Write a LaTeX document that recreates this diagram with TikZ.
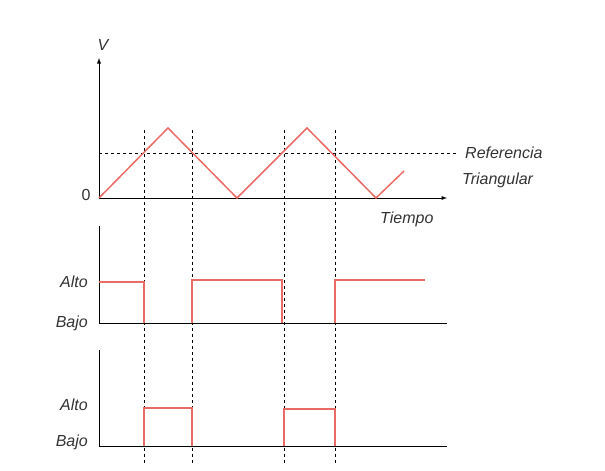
\documentclass[tikz,border=0pt]{standalone}
\usepackage{fontspec}
\setmainfont{Liberation Sans}
\definecolor{sig}{HTML}{EA6B66}
\definecolor{txt}{HTML}{333333}
\begin{document}
\begin{tikzpicture}[x=1pt,y=-1pt,
  ax/.style={line width=0.9pt,black},
  axa/.style={ax,-latex},
  sg/.style={sig,line width=1.5pt},
  dsh/.style={black,dashed,line width=0.6pt},
  lbl/.style={text=txt,font=\itshape\fontsize{16}{18}\selectfont,inner sep=0pt}]
\useasboundingbox (0,0) rectangle (605,471);
\coordinate (o1) at (99,198); \coordinate (vt) at (99,58); \coordinate (ht) at (447,198);
\coordinate (o2) at (99,323); \coordinate (v2) at (99,226); \coordinate (h2) at (447,323);
\coordinate (o3) at (99,446); \coordinate (v3) at (99,350); \coordinate (h3) at (447,446);
\draw[axa] (o1) -- (vt);
\draw[axa] (o1) -- (ht);
\draw[ax] (o2) -- (v2); \draw[ax] (o2) -- (h2);
\draw[ax] (o3) -- (v3); \draw[ax] (o3) -- (h3);
\node[lbl] (V) at (103,45) {V};
\node[lbl,font=\fontsize{16}{18}\selectfont] (z) at (86,195) {0};
\node[lbl,anchor=west] (ref) at (465,153) {Referencia};
\node[lbl,anchor=west] (tri) at (462,180) {Triangular};
\node[lbl,anchor=west] (tiem) at (380,219) {Tiempo};
\node[lbl,anchor=east] (a1) at (88,282) {Alto};
\node[lbl,anchor=east] (b1) at (88,323) {Bajo};
\node[lbl,anchor=east] (a2) at (88,405) {Alto};
\node[lbl,anchor=east] (b2) at (88,442) {Bajo};
\coordinate (r1) at (99,153); \coordinate (r2) at (458,153);
\draw[dsh] (r1) -- (r2);
\foreach \x in {144,192,284,335}{
  \draw[dsh] (\x,130) -- (\x,463);
}
\draw[sg] (99,198) -- (168,128) -- (237,198) -- (307,128) -- (376,198) -- (404,171);
\draw[sg] (99,282) -- (144,282) -- (144,323);
\draw[sg] (192,323) -- (192,280) -- (282,280) -- (282,323);
\draw[sg] (335,323) -- (335,280) -- (425,280);
\draw[sg] (144,446) -- (144,408) -- (192,408) -- (192,446);
\draw[sg] (284,446) -- (284,409) -- (335,409) -- (335,446);
\end{tikzpicture}
\end{document}
